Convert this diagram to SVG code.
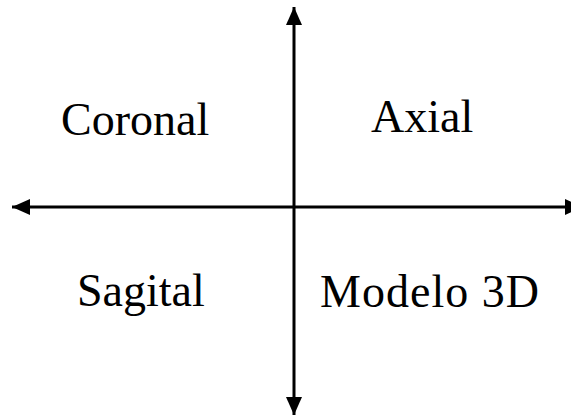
<svg xmlns="http://www.w3.org/2000/svg" width="571" height="416" viewBox="0 0 571 416">
<style>
.lbl{font-family:"Liberation Serif","Times New Roman",serif;font-size:46px;fill:#000}
.ax{stroke:#000;stroke-width:3;fill:none}
</style>
<defs>
<marker id="ah" markerUnits="userSpaceOnUse" markerWidth="18" markerHeight="16" refX="18" refY="8" orient="auto-start-reverse" viewBox="0 0 18 16">
<path d="M0,0 L18,8 L0,16 Z" fill="#000"/>
</marker>
</defs>
<rect width="571" height="416" fill="#fff"/>
<g id="connectors">
<line class="ax" x1="294" y1="7" x2="294" y2="415" marker-start="url(#ah)" marker-end="url(#ah)"/>
<line class="ax" x1="12" y1="207" x2="583" y2="207" marker-start="url(#ah)" marker-end="url(#ah)"/>
</g>
<g id="coronal"><text class="lbl" x="61" y="135">Coronal</text></g>
<g id="axial"><text class="lbl" x="371" y="132">Axial</text></g>
<g id="sagital"><text class="lbl" x="77" y="306">Sagital</text></g>
<g id="modelo3d"><text class="lbl" x="320" y="307" textLength="219" lengthAdjust="spacing">Modelo 3D</text></g>
</svg>
